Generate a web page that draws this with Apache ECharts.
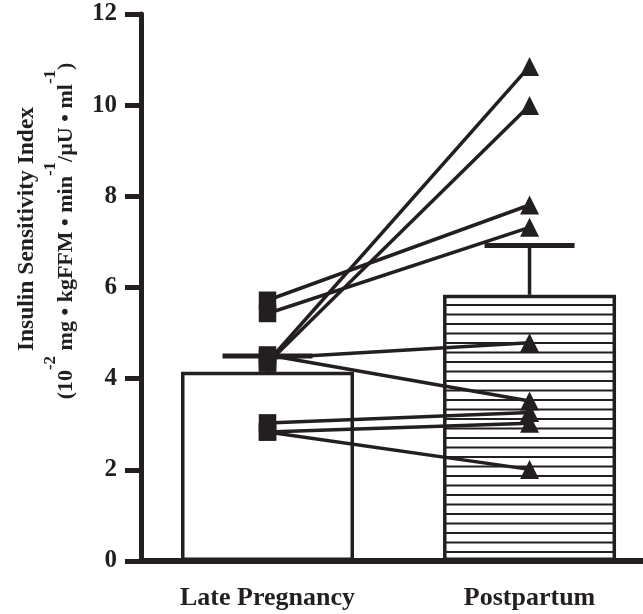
<!DOCTYPE html>
<html><head><meta charset="utf-8">
<script src="https://cdn.jsdelivr.net/npm/echarts@6/dist/echarts.min.js"></script>
<style>html,body{margin:0;padding:0;background:#fff}#c{width:643px;height:614px}</style>
</head><body><div id="c"></div>
<script>
// ---- data ----
const categories = ['Late Pregnancy', 'Postpartum'];
const categoryPos = [1, 2];
const meanValues = [4.15, 5.84];
const errorUpper = [4.50, 6.92];
const latePregnancy = [5.72, 5.43, 4.52, 4.45, 4.36, 4.34, 3.03, 2.83, 2.83];
const postpartum    = [7.81, 7.32, 3.51, 4.79, 10.85, 9.99, 3.26, 3.02, 2.01];
const yTicks = [0, 2, 4, 6, 8, 10, 12];

// ---- styles ----
const INK = '#231f20';
const SERIF = '"Liberation Serif", "Times New Roman", serif';

const pc = document.createElement('canvas');
pc.width = 8; pc.height = 19;
const g = pc.getContext('2d');
g.fillStyle = '#fff'; g.fillRect(0, 0, 8, 19);
g.fillStyle = INK; g.fillRect(0, 0, 8, 2); g.fillRect(0, 9.5, 8, 2);

const chart = echarts.init(document.getElementById('c'), null, {renderer: 'canvas'});

const series = [];
series.push({
  type: 'bar', z: 2, silent: true, barWidth: 173,
  data: categoryPos.map((p, i) => ({
    value: [p, meanValues[i]],
    itemStyle: i === 0 ? {color: '#fff', borderColor: INK, borderWidth: 3.5}
                       : {color: {image: pc, repeat: 'repeat'}, borderColor: INK, borderWidth: 3.5}
  }))
});
series.push({
  type: 'custom', z: 3, silent: true,
  encode: {x: 0, y: [1, 2]},
  data: categoryPos.map((p, i) => [p, meanValues[i], errorUpper[i]]),
  renderItem(params, api) {
    const x = api.value(0);
    const lo = api.coord([x, api.value(1)]);
    const hi = api.coord([x, api.value(2)]);
    const half = 45;
    return {type: 'group', children: [
      {type: 'line', shape: {x1: lo[0], y1: lo[1], x2: hi[0], y2: hi[1]}, style: {stroke: INK, lineWidth: 3.5}},
      {type: 'line', shape: {x1: hi[0] - half, y1: hi[1], x2: hi[0] + half, y2: hi[1]}, style: {stroke: INK, lineWidth: 5}}
    ]};
  }
});
latePregnancy.forEach((v, i) => {
  series.push({
    type: 'line', z: 4, silent: true, symbol: 'none',
    lineStyle: {color: INK, width: 3.5},
    data: [[categoryPos[0], v], [categoryPos[1], postpartum[i]]]
  });
});
series.push({
  type: 'scatter', z: 5, silent: true, symbol: 'rect', symbolSize: 17.5,
  itemStyle: {color: INK, opacity: 1},
  data: latePregnancy.map(v => [categoryPos[0], v])
});
series.push({
  type: 'scatter', z: 5, silent: true, symbol: 'triangle', symbolSize: [19, 19],
  itemStyle: {color: INK, opacity: 1},
  data: postpartum.map(v => [categoryPos[1], v])
});

chart.setOption({
  animation: false,
  backgroundColor: '#fff',
  grid: {left: 141, right: 0, top: 14, bottom: 53, containLabel: false},
  xAxis: {
    type: 'value', min: 0.5172, max: 2.433,
    axisLine: {show: true, onZero: false, lineStyle: {color: INK, width: 6}},
    axisTick: {show: false}, splitLine: {show: false},
    axisLabel: {
      customValues: categoryPos,
      formatter: v => categories[categoryPos.indexOf(v)] || '',
      color: INK, fontFamily: SERIF, fontWeight: 'bold', fontSize: 26, margin: 24
    }
  },
  yAxis: {
    type: 'value', min: 0, max: 12, interval: 2,
    axisLine: {show: true, lineStyle: {color: INK, width: 5}},
    axisTick: {show: true, length: 16, customValues: yTicks, lineStyle: {color: INK, width: 5}},
    axisLabel: {customValues: yTicks, color: INK, fontFamily: SERIF, fontWeight: 'bold', fontSize: 25, margin: 24},
    splitLine: {show: false}
  },
  graphic: [
    {type: 'text', x: 27, y: 229, rotation: Math.PI / 2, silent: true,
     style: {text: 'Insulin Sensitivity Index', fontFamily: SERIF, fontWeight: 'bold', fontSize: 23.5,
             fill: INK, align: 'center', verticalAlign: 'middle'}},
    {type: 'text', x: 66, y: 231, rotation: Math.PI / 2, silent: true,
     style: {text: '{t|(10}{s|-2}{t| mg • kgFFM • min}{s|-1}{t|/µU • ml}{s|-1}{t|)}',
             align: 'center', verticalAlign: 'middle', fill: INK,
             rich: {
               t: {fontFamily: SERIF, fontWeight: 'bold', fontSize: 22, lineHeight: 47, fill: INK},
               s: {fontFamily: SERIF, fontWeight: 'bold', fontSize: 17, lineHeight: 18, verticalAlign: 'top', fill: INK}
             }}}
  ],
  series: series
});
</script>
</body></html>
